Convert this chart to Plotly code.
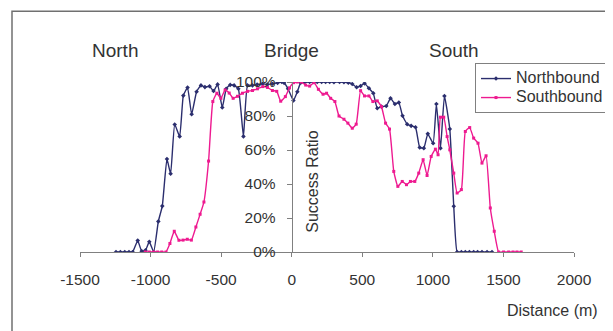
import plotly.graph_objects as go

# Northbound: distance (m), success ratio (%)
north_x = [-1245, -1214, -1183, -1153, -1127, -1091, -1063, -1036, -1009, -978,
           -945, -917, -884, -858, -829, -794, -768, -738, -709, -674,
           -643, -615, -582, -554, -525, -492, -464, -436, -408, -378,
           -342, -313, -278, -245, -207, -172, -137, -100, -70, -54,
           -26, 12, 40, 64, 92, 127, 158, 181, 212, 240,
           269, 299, 339, 370, 401, 429, 460, 488, 516, 547,
           578, 606, 636, 670, 700, 731, 759, 785, 818, 846,
           877, 907, 936, 964, 1002, 1025, 1054, 1082, 1120, 1148,
           1172, 1202, 1230, 1259, 1289, 1317, 1348, 1384, 1419]
north_y = [0, 0, 0, 0, 0, 6.7, 0.5, 1, 6, 0,
           18, 27, 54.7, 46, 75, 68, 92, 96.7, 81, 94.3,
           98, 97, 97.5, 94.7, 98.6, 85, 96, 98.3, 98, 96,
           68, 98, 98, 98.5, 99, 98.5, 99, 99.5, 100, 99.5,
           96, 89.1, 94.3, 99.6, 99.8, 100, 100, 100, 100, 100,
           100, 99.8, 100, 99.8, 99.6, 98.8, 96.9, 97.7, 99.2, 96.3,
           93.4, 84.6, 85.5, 85.9, 90.4, 87.1, 87.9, 80.1, 75.2, 74.2,
           73.4, 61.5, 61.1, 69.5, 64, 87.1, 61.1, 91.8, 72.4, 26.9,
           0, 0, 0, 0, 0, 0, 0, 0, 0]

# Southbound: distance (m), success ratio (%)
south_x = [-1037, -1009, -978, -950, -921, -891, -863, -832, -799, -770,
           -740, -711, -679, -649, -622, -589, -559, -530, -502, -472,
           -443, -415, -384, -349, -313, -278, -243, -205, -172, -137,
           -106, -78, -45, -16, 14, 40, 68, 99, 127, 158,
           189, 222, 247, 276, 306, 335, 370, 398, 429, 457,
           488, 516, 547, 575, 606, 636, 665, 693, 723, 752,
           783, 813, 841, 872, 900, 931, 959, 988, 1018, 1037,
           1054, 1077, 1101, 1120, 1148, 1172, 1202, 1230, 1261, 1289,
           1320, 1348, 1377, 1407, 1435, 1466, 1501, 1537, 1568, 1596, 1626]
south_y = [0, 0, 0, 0, 0, 0, 5, 12.2, 6.9, 7,
           7.5, 7, 14.7, 22.2, 29.4, 53.5, 88.5, 93.4, 90.4, 95.3,
           93.5, 90.4, 91.6, 93.4, 94.5, 95, 96, 97.3, 96.8, 95,
           94.5, 88.7, 91.4, 96.5, 99.6, 100, 100, 98.2, 97.6, 99.6,
           95.7, 92.8, 93.4, 90.4, 88.5, 80, 78.1, 75.8, 72.8, 75.2,
           94.9, 91.8, 91.8, 88.5, 88.9, 85.5, 75.8, 72.3, 47.4, 38.6,
           41.5, 39.6, 41.5, 41.5, 46.4, 54.3, 45, 56.2, 60.5, 57.2,
           79.3, 79.3, 67.9, 60.1, 46.4, 34.7, 36.7, 70.9, 73.2, 67,
           64, 52.3, 56.6, 25.9, 12.2, 0, 0, 0, 0, 0, 0]

x_tick_vals = [-1500, -1000, -500, 0, 500, 1000, 1500, 2000]
x_tick_text = ["-1500", "-1000", "-500", "0", "500", "1000", "1500", "2000"]
y_tick_vals = [0, 20, 40, 60, 80, 100]
y_tick_text = ["0%", "20%", "40%", "60%", "80%", "100%"]

region_labels = ["North", "Bridge", "South"]
region_pos = [-1250, 0, 1150]

FONT = "Liberation Sans, Arial, sans-serif"
TXT = "#333333"
NAVY = "#2B2E6E"
PINK = "#EE1A90"

def legend_name(s):
    return "<span style='font-size:16px'>" + s + "</span>"

fig = go.Figure()
fig.add_trace(go.Scatter(
    x=north_x, y=north_y, name=legend_name("Northbound"), mode="lines+markers",
    line=dict(color=NAVY, width=1.4, shape="spline", smoothing=0.4),
    marker=dict(color=NAVY, size=3.5, symbol="diamond"),
))
fig.add_trace(go.Scatter(
    x=south_x, y=south_y, name=legend_name("Southbound"), mode="lines+markers",
    line=dict(color=PINK, width=1.4, shape="spline", smoothing=0.4),
    marker=dict(color=PINK, size=3, symbol="square"),
))

# page body has an 8px margin; the figure is sized to fit the window
OFF = 8
W, H = 613 - OFF, 331 - OFF
L = 80 - OFF
T = 82 - OFF
R = W - (574 - OFF)
B = H - (252.5 - OFF)
pw, ph = W - L - R, H - T - B

def px_x(p):
    return (p - OFF - L) / pw

def px_y(p):
    return (H - B - (p - OFF)) / ph

fig.update_layout(
    width=W, height=H,
    margin=dict(l=L, r=R, t=T, b=B, autoexpand=False),
    paper_bgcolor="white", plot_bgcolor="white",
    font=dict(family=FONT, size=15.5, color=TXT),
    showlegend=True,
    legend=dict(
        x=px_x(475), y=px_y(63), xanchor="left", yanchor="top",
        bordercolor="#808080", borderwidth=1, bgcolor="white",
        font=dict(family=FONT, size=12, color=TXT),
        itemwidth=30, tracegroupgap=0,
    ),
    xaxis=dict(
        range=[-1500, 2000], tickvals=x_tick_vals, ticktext=x_tick_text,
        showgrid=False, zeroline=False, showline=True, linecolor="#808080",
        linewidth=1, ticks="outside", ticklen=4, tickcolor="#808080",
        anchor="y", tickfont=dict(size=15.5, color=TXT), automargin=False,
        ticklabelstandoff=9,
    ),
    yaxis=dict(
        range=[0, 100], tickvals=y_tick_vals, ticktext=y_tick_text,
        showgrid=False, zeroline=False, showline=True, linecolor="#808080",
        linewidth=1, ticks="outside", ticklen=5, tickcolor="#808080",
        anchor="free", position=1500 / 3500, tickfont=dict(size=15.5, color=TXT),
        automargin=False, ticklabelstandoff=8,
    ),
)

for lab, pos in zip(region_labels, region_pos):
    fig.add_annotation(x=pos, xref="x", y=px_y(50), yref="paper", text=lab,
                       showarrow=False, font=dict(size=19, color=TXT, family=FONT),
                       xanchor="center", yanchor="middle")

fig.add_annotation(x=px_x(313), xref="paper", y=px_y(182), yref="paper",
                   text="Success Ratio", textangle=-90, showarrow=False,
                   font=dict(size=16, color=TXT, family=FONT),
                   xanchor="center", yanchor="middle")
fig.add_annotation(x=px_x(600), xref="paper", y=px_y(311), yref="paper",
                   text="Distance (m)", showarrow=False,
                   font=dict(size=16, color=TXT, family=FONT),
                   xanchor="right", yanchor="middle")

fig.add_shape(type="rect", xref="paper", yref="paper",
              x0=px_x(12), x1=px_x(640), y0=px_y(360), y1=px_y(11),
              line=dict(color="#707070", width=1.5), fillcolor="rgba(0,0,0,0)",
              layer="below")

fig.write_html("out.html")
